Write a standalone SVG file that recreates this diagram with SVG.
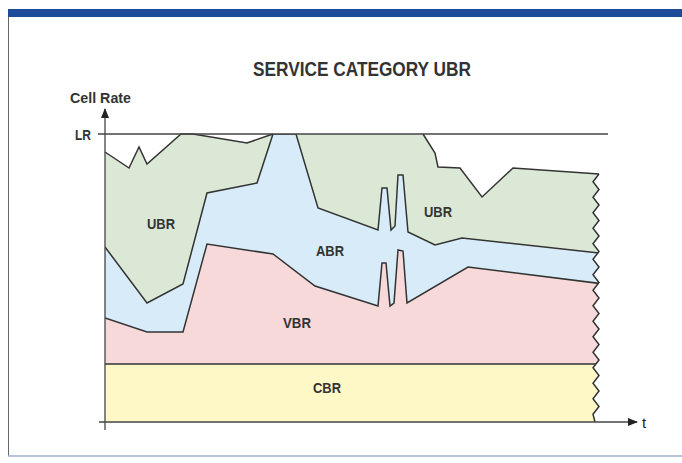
<svg xmlns="http://www.w3.org/2000/svg" width="682" height="463" viewBox="0 0 682 463">
<style>
  .t{font-family:"Liberation Sans","Arial",sans-serif;font-weight:bold;fill:#333;}
  .lbl{font-size:14.5px;text-anchor:middle;}
  .edge{fill:none;stroke:#333;stroke-width:1.5;stroke-linejoin:miter;}
  .axis{fill:none;stroke:#444;stroke-width:1.3;}
</style>
<defs>
  <marker id="arr" markerWidth="10" markerHeight="8" refX="9" refY="4" orient="auto" markerUnits="userSpaceOnUse">
    <path d="M0,0 L10,4 L0,8 Z" fill="#222"/>
  </marker>
  <clipPath id="area">
    <polygon points="105,152 129,168 139,147 147,164 181,134 193,134 247,143 273,134 423,134 435,153 438,167 460,168 482,197 513,168 599,174 593,181.75 599,189.5 593,197.25 599,205 593,212.75 599,220.5 593,228.25 599,236 593,243.75 599,251.5 593,259.25 599,267 593,274.75 599,282.5 593,290.25 599,298 593,305.75 599,313.5 593,321.25 599,329 593,336.75 599,344.5 593,352.25 599,360 593,367.75 599,375.5 593,383.25 599,391 593,398.75 599,406.5 593,414.25 595,422 105,422"/>
  </clipPath>
</defs>

<g id="frame">
  <rect x="8" y="9" width="674" height="8" fill="#1c4b99"/>
  <line x1="8.5" y1="17" x2="8.5" y2="456" stroke="#666" stroke-width="1"/>
  <line x1="8" y1="456" x2="682" y2="456" stroke="#9fb2cf" stroke-width="1.5"/>
</g>

<text id="title" class="t" x="362" y="76" font-size="19.5" text-anchor="middle" textLength="218" lengthAdjust="spacingAndGlyphs">SERVICE CATEGORY UBR</text>

<g id="bands" clip-path="url(#area)">
  <g id="ubr"><rect x="105" y="130" width="510" height="300" fill="#dbe8d6"/></g>
  <g id="abr"><polygon points="105,247 147,303 183,284 207,193 257,183 273,134 296,134 318,208 378,230 382,188 387,188 391,230 395,226 398,175 403,175 408,232 435,245 462,238 612,254.5 612,422 105,422" fill="#d7ebf8"/></g>
  <g id="vbr"><polygon points="105,318 147,332 183,332 207,244 273,254 315,286 378,306 382,263 386,263 390,306 394,303 398,250 403,251 407,303 468,267 612,285 612,422 105,422" fill="#f7d9da"/></g>
  <g id="cbr"><rect x="105" y="364" width="510" height="58" fill="#fdf8c6"/></g>
</g>

<g id="connectors" clip-path="url(#area)">
  <polyline class="edge" points="105,247 147,303 183,284 207,193 257,183 273,134 296,134 318,208 378,230 382,188 387,188 391,230 395,226 398,175 403,175 408,232 435,245 462,238 612,254.5"/>
  <polyline class="edge" points="105,318 147,332 183,332 207,244 273,254 315,286 378,306 382,263 386,263 390,306 394,303 398,250 403,251 407,303 468,267 612,285"/>
  <line class="edge" x1="105" y1="364" x2="612" y2="364"/>
</g>
<g id="outline">
  <polyline class="edge" points="105,152 129,168 139,147 147,164 181,134 193,134 247,143 273,134"/>
  <polyline class="edge" points="423,134 435,153 438,167 460,168 482,197 513,168 599,174"/>
  <polyline class="edge" stroke-width="1.3" points="599,174 593,181.75 599,189.5 593,197.25 599,205 593,212.75 599,220.5 593,228.25 599,236 593,243.75 599,251.5 593,259.25 599,267 593,274.75 599,282.5 593,290.25 599,298 593,305.75 599,313.5 593,321.25 599,329 593,336.75 599,344.5 593,352.25 599,360 593,367.75 599,375.5 593,383.25 599,391 593,398.75 599,406.5 593,414.25 595,422"/>
</g>

<g id="axes">
  <line class="axis" x1="98" y1="134" x2="608" y2="134"/>
  <line class="axis" x1="105" y1="430" x2="105" y2="109" marker-end="url(#arr)"/>
  <line class="axis" x1="99" y1="422" x2="637" y2="422" marker-end="url(#arr)"/>
  <text class="t" x="70" y="103" font-size="14.5" textLength="61" lengthAdjust="spacingAndGlyphs">Cell Rate</text>
  <text class="t" x="75" y="140" font-size="14.5" textLength="16" lengthAdjust="spacingAndGlyphs">LR</text>
  <text x="642" y="428" font-family="Liberation Sans, Arial, sans-serif" font-size="15" fill="#222">t</text>
</g>

<g id="labels">
  <text class="t lbl" x="161" y="229" textLength="28" lengthAdjust="spacingAndGlyphs">UBR</text>
  <text class="t lbl" x="438" y="217" textLength="28" lengthAdjust="spacingAndGlyphs">UBR</text>
  <text class="t lbl" x="330" y="256" textLength="28" lengthAdjust="spacingAndGlyphs">ABR</text>
  <text class="t lbl" x="297" y="328" textLength="28" lengthAdjust="spacingAndGlyphs">VBR</text>
  <text class="t lbl" x="327" y="393" textLength="28" lengthAdjust="spacingAndGlyphs">CBR</text>
</g>
</svg>
